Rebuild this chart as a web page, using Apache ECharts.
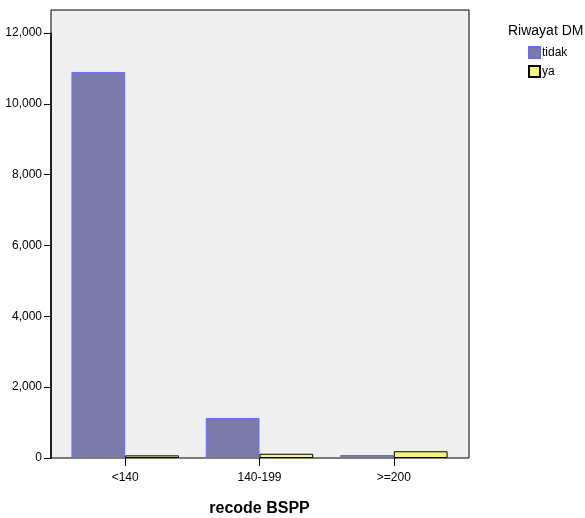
<!DOCTYPE html>
<html><head><meta charset="utf-8">
<script src="https://cdn.jsdelivr.net/npm/echarts@6/dist/echarts.min.js"></script>
<style>html,body{margin:0;padding:0;background:#fff}#c{width:585px;height:518px}</style>
</head><body><div id="c"></div>
<script>
const categories = ['<140', '140-199', '>=200'];
const tidakValues = [10900, 1130, 85];
const yaValues = [75, 120, 190];
const yTicks = [0, 2000, 4000, 6000, 8000, 10000, 12000];
const seriesNames = ['tidak', 'ya'];

const chart = echarts.init(document.getElementById('c'));
const font = 'Liberation Sans, Arial, sans-serif';
chart.setOption({
  animation: false,
  title: {
    text: 'Riwayat DM', left: 508, top: 24, padding: 0,
    textStyle: { fontFamily: font, fontSize: 14, fontWeight: 'normal', color: '#000' }
  },
  legend: {
    orient: 'vertical', left: 528, top: 46, padding: 0,
    itemWidth: 11, itemHeight: 11, itemGap: 6, icon: 'rect',
    data: seriesNames,
    textStyle: { fontFamily: font, fontSize: 12, color: '#000', padding: [0, 0, 0, -3] }
  },
  grid: [
    { left: 58, top: 33, width: 403, height: 425, show: false, containLabel: false, outerBoundsMode: 'none' },
    { left: 51, top: 10, width: 418, height: 448, show: true, backgroundColor: '#efefef', borderColor: '#000', borderWidth: 1, z: 0, outerBoundsMode: 'none' }
  ],
  xAxis: [
    {
      type: 'category', gridIndex: 0, data: categories, boundaryGap: true,
      name: 'recode BSPP', nameLocation: 'middle', nameGap: 43,
      nameTextStyle: { fontFamily: font, fontSize: 16, fontWeight: 'bold', color: '#000' },
      axisLine: { show: false },
      axisTick: { show: true, alignWithLabel: true, length: 8, lineStyle: { color: '#000' } },
      axisLabel: { fontFamily: font, fontSize: 12, color: '#000', margin: 14 },
      z: 5
    },
    { type: 'value', gridIndex: 1, show: false }
  ],
  yAxis: [
    {
      type: 'value', gridIndex: 0, min: 0, max: 12000, interval: 2000, offset: 7,
      axisLine: { show: true, lineStyle: { color: '#000', width: 1.5 } },
      axisTick: { show: true, length: 7, lineStyle: { color: '#000' } },
      splitLine: { show: false },
      axisLabel: {
        fontFamily: font, fontSize: 12, color: '#000', margin: 9,
        formatter: v => yTicks.includes(v) ? v.toLocaleString('en-US') : ''
      }
    },
    { type: 'value', gridIndex: 1, show: false }
  ],
  series: [
    {
      name: 'tidak', type: 'bar', xAxisIndex: 0, yAxisIndex: 0, data: tidakValues,
      barWidth: '40%', barGap: '0%',
      itemStyle: { color: '#7b7ba9', borderColor: '#6a6aff', borderWidth: 1 }
    },
    {
      name: 'ya', type: 'bar', xAxisIndex: 0, yAxisIndex: 0, data: yaValues,
      barWidth: '40%', barGap: '0%',
      itemStyle: { color: '#f6f670', borderColor: '#000', borderWidth: 1 }
    }
  ]
});
</script></body></html>
